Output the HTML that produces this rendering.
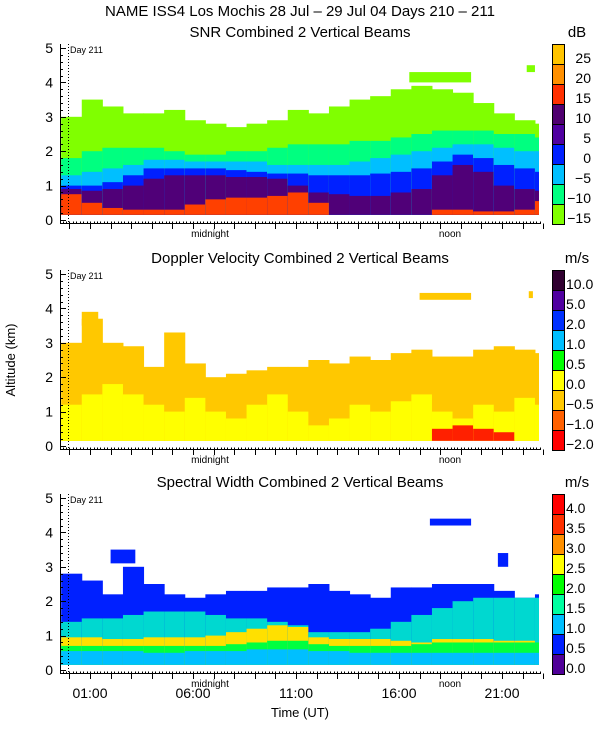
<!DOCTYPE html>
<html><head><meta charset="utf-8">
<style>
html,body{margin:0;padding:0;background:#fff;}
svg{display:block;font-family:"Liberation Sans",sans-serif;}
</style></head>
<body>
<svg id="chart" width="600" height="750" viewBox="0 0 600 750">
<text x="300" y="16" text-anchor="middle" font-size="15">NAME ISS4 Los Mochis  28 Jul – 29 Jul 04 Days 210 – 211</text>
<text x="15" y="360" text-anchor="middle" font-size="13" transform="rotate(-90 15 360)">Altitude (km)</text>
<text x="300" y="717" text-anchor="middle" font-size="13">Time (UT)</text>
</svg>
<script>
// ---- data ----
const hours = [-0.4,0.6,1.6,2.6,3.6,4.6,5.6,6.6,7.6,8.6,9.6,10.6,11.6,12.6,13.6,14.6,15.6,16.6,17.6,18.6,19.6,20.6,21.6,22.6];
const xTickLabels = ["01:00","06:00","11:00","16:00","21:00"];
const xTickHours = [1,6,11,16,21];
const yTickLabels = ["0","1","2","3","4","5"];
// SNR layer tops (km)
const snrRed    = [0.75,0.5,0.35,0.3,0.3,0.3,0.45,0.6,0.65,0.65,0.7,0.8,0.5,0,0,0,0,0,0.3,0.3,0.25,0.25,0.3,0.55];
const snrPurple = [0.9,0.85,0.9,1.0,1.2,1.3,1.3,1.3,1.25,1.25,1.2,1.0,0.8,0.75,0.7,0.7,0.8,0.9,1.3,1.6,1.4,1.0,0.9,0.85];
const snrBlue   = [1.0,1.0,1.1,1.3,1.5,1.5,1.5,1.5,1.45,1.4,1.35,1.35,1.3,1.3,1.3,1.35,1.4,1.5,1.7,1.9,1.8,1.6,1.5,1.4];
const snrCyan   = [1.3,1.4,1.5,1.6,1.75,1.75,1.7,1.7,1.7,1.7,1.6,1.6,1.6,1.6,1.7,1.8,1.9,2.0,2.1,2.2,2.2,2.1,2.0,2.0];
const snrGreen  = [1.8,2.0,2.1,2.1,2.1,2.0,1.9,1.9,2.0,2.0,2.1,2.2,2.2,2.2,2.3,2.3,2.4,2.5,2.6,2.6,2.6,2.5,2.5,2.4];
const snrLime   = [3.0,3.5,3.3,3.1,3.1,3.2,2.9,2.8,2.7,2.8,2.9,3.2,3.1,3.3,3.5,3.6,3.8,3.9,3.8,3.7,3.4,3.1,2.9,2.8];
// Doppler layer tops (km)
const dopRed    = [0,0,0,0,0,0,0,0,0,0,0,0,0,0,0,0,0,0,0.5,0.6,0.5,0.4,0,0];
const dopYellow = [1.2,1.5,1.8,1.5,1.2,1.0,1.4,1.0,0.8,1.2,1.5,1.0,0.6,0.8,1.2,1.0,1.3,1.5,1.0,0.8,1.2,1.0,1.4,1.2];
const dopOrange = [3.0,3.7,3.0,2.9,2.3,3.3,2.4,2.0,2.1,2.2,2.3,2.3,2.5,2.4,2.6,2.5,2.7,2.8,2.6,2.6,2.8,2.9,2.8,2.7];
// Spectral width layer tops (km)
const swCyan    = [0.55,0.55,0.55,0.55,0.5,0.5,0.55,0.55,0.55,0.6,0.6,0.6,0.55,0.55,0.5,0.5,0.5,0.5,0.5,0.5,0.5,0.5,0.5,0.5];
const swGreen   = [0.7,0.7,0.7,0.7,0.7,0.7,0.7,0.7,0.75,0.8,0.85,0.85,0.75,0.7,0.7,0.7,0.7,0.75,0.8,0.8,0.8,0.8,0.8,0.8];
const swYellow  = [0.95,0.95,0.9,0.9,0.95,0.95,0.95,1.0,1.1,1.2,1.3,1.25,0.95,0.9,0.9,0.9,0.85,0.8,0.9,0.9,0.9,0.85,0.85,0.8];
const swMint    = [1.4,1.5,1.5,1.6,1.7,1.7,1.7,1.6,1.5,1.5,1.4,1.3,1.1,1.1,1.1,1.2,1.4,1.6,1.8,2.0,2.1,2.1,2.1,2.1];
const swBlue    = [2.8,2.6,2.2,3.0,2.5,2.2,2.1,2.2,2.3,2.3,2.4,2.4,2.5,2.3,2.2,2.1,2.4,2.4,2.5,2.5,2.5,2.3,2.1,2.2];
// isolated patches: [startHour, endHour, bottomKm, topKm]
const dopPatches = [[0.6,1.4,3.5,3.9],[17.0,19.5,4.25,4.45],[22.3,22.5,4.3,4.5]];
const swPatches  = [[17.5,19.5,4.2,4.4],[2.0,3.2,3.1,3.5],[20.8,21.3,3.0,3.4]];
const snrPatches = [[16.5,19.5,4.0,4.3],[22.2,22.6,4.3,4.5]];
const snrScale = ["25","20","15","10","5","0","−5","−10","−15"];
const dopScale = ["10.0","5.0","2.0","1.0","0.5","0.0","−0.5","−1.0","−2.0"];
const swScale  = ["4.0","3.5","3.0","2.5","2.0","1.5","1.0","0.5","0.0"];

const snrColors = ["#ffc400","#ff9000","#ff3000","#500070","#5000a0","#0020ff","#00bfff","#00ff80","#80ff00"];
const dopColors = ["#300030","#5000a0","#0030ff","#00bfff","#00ff00","#ffff00","#ffc800","#ff6000","#ff0000"];
const swColors  = ["#ff0000","#ff3000","#ff9000","#ffff00","#00ff00","#00ffa0","#00bfff","#0020ff","#500098"];

const svg = document.getElementById('chart');
const NS = "http://www.w3.org/2000/svg";
const X0 = 60, X1 = 541, H0 = 69.4, PXH = 20.6, DATA_R = 539;
function xs(h){ return H0 + h*PXH; }
function mk(tag, attrs, parent){ const e=document.createElementNS(NS,tag); for(const k in attrs) e.setAttribute(k,attrs[k]); (parent||svg).appendChild(e); return e; }

function panel(idx, yZero, title, unit, scale, colors, layers, patches, patchColor, labelAnchorEnd){
  const yFive = yZero - 172;
  const ys = a => yZero - a*(yZero-yFive)/5;
  const g = mk('g',{});
  
  
  const clipId = 'clip'+idx;
  const cp = mk('clipPath',{id:clipId}, g);
  mk('rect',{x:X0+1,y:yFive-4,width:DATA_R-X0-1,height:yZero-yFive+4}, cp);
  const dg = mk('g',{'clip-path':'url(#'+clipId+')'}, g);
  
  
  for(let i=0;i<hours.length;i++){
    for(let L=layers.length-1; L>=0; L--){
      const top = layers[L].tops[i];
      if(top<=0.15) continue;
      const r = mk('rect',{x:xs(hours[i]),y:ys(top),width:PXH+0.5,height:ys(0.15)-ys(top),fill:layers[L].color}, dg);
      
      
    }
  }
  patches.forEach(p=>{
    const r = mk('rect',{x:xs(p[0]),y:ys(p[3]),width:xs(p[1])-xs(p[0]),height:ys(p[2])-ys(p[3]),fill:patchColor}, dg);
    
    
  });
  const t = mk('text',{x:300,y:yFive-11,'text-anchor':'middle','font-size':15}, g);
  t.textContent = title;
  
  
  const ax = mk('g',{stroke:'#000','stroke-width':1}, g);
  
  
  mk('line',{x1:X0+0.5,y1:yFive-4,x2:X0+0.5,y2:yZero+3.5}, ax);
  mk('line',{x1:X0,y1:yZero+3.5,x2:X1,y2:yZero+3.5}, ax);
  for(let k=0;k<=25;k++){
    const y = Math.round(ys(k*0.2))+0.5;
    mk('line',{x1:X0,y1:y,x2:X0+(k%5===0?6:3),y2:y}, ax);
  }
  for(let h=-0.33; h<=23.0; h+=1/6){
    const x=Math.round(xs(h))+0.5;
    if(x>X1) break;
    mk('line',{x1:x,y1:yZero+3.5,x2:x,y2:yZero+1.5}, ax);
  }
  for(let h=0; h<=23; h++){
    const x=Math.round(xs(h))+0.5;
    mk('line',{x1:x,y1:yZero+3.5,x2:x,y2:yZero+9}, ax);
  }
  yTickLabels.forEach((lb,k)=>{
    const tx = mk('text',{x:53,y:ys(k)+5,'text-anchor':'end','font-size':14}, g);
    tx.textContent = lb;
    
    
  });
  mk('line',{x1:68.5,y1:yFive-4,x2:68.5,y2:yZero+3,stroke:'#000','stroke-dasharray':'1,2'}, g);
  const d = mk('text',{x:70,y:yFive+5,'font-size':9}, g);
  d.textContent = 'Day 211';
  
  
  const mn = mk('text',{x:210,y:yZero+17,'text-anchor':'middle','font-size':10}, g);
  mn.textContent = 'midnight';
  
  
  const nn = mk('text',{x:450,y:yZero+17,'text-anchor':'middle','font-size':10}, g);
  nn.textContent = 'noon';
  
  
  const cb = mk('g',{}, g);
  
  
  const cTop = yFive-4, bh = 20;
  colors.forEach((c,k)=>{
    mk('rect',{x:552.5,y:cTop+k*bh+0.5,width:12,height:bh,fill:c,stroke:'#000'}, cb);
  });
  scale.forEach((lb,k)=>{
    const tx = mk('text',{x:labelAnchorEnd?591:566,y:cTop+k*bh+bh-1,'text-anchor':labelAnchorEnd?'end':'start','font-size':14}, cb);
    tx.textContent = lb;
    
    
  });
  const u = mk('text',{x:577,y:yFive-11,'text-anchor':'middle','font-size':15}, cb);
  u.textContent = unit;
  
  
  return g;
}

panel(1, 220, 'SNR Combined 2 Vertical Beams', 'dB', snrScale, snrColors, [
  {color:'#ff4000', tops:snrRed},
  {color:'#500078', tops:snrPurple},
  {color:'#0020ff', tops:snrBlue},
  {color:'#00bfff', tops:snrCyan},
  {color:'#00ff80', tops:snrGreen},
  {color:'#80ff00', tops:snrLime}
], snrPatches, '#80ff00', true);

panel(2, 446, 'Doppler Velocity Combined 2 Vertical Beams', 'm/s', dopScale, dopColors, [
  {color:'#ff2000', tops:dopRed},
  {color:'#ffff00', tops:dopYellow},
  {color:'#ffc800', tops:dopOrange}
], dopPatches, '#ffc800', false);

panel(3, 670, 'Spectral Width Combined 2 Vertical Beams', 'm/s', swScale, swColors, [
  {color:'#00bfff', tops:swCyan},
  {color:'#00ff40', tops:swGreen},
  {color:'#ffe000', tops:swYellow},
  {color:'#00d8d0', tops:swMint},
  {color:'#0020ff', tops:swBlue}
], swPatches, '#0020ff', false);

xTickLabels.forEach((lb,k)=>{
  const t = mk('text',{x:xs(xTickHours[k]),y:698,'text-anchor':'middle','font-size':14});
  
  
  t.textContent = lb;
});
</script>
</body></html>
